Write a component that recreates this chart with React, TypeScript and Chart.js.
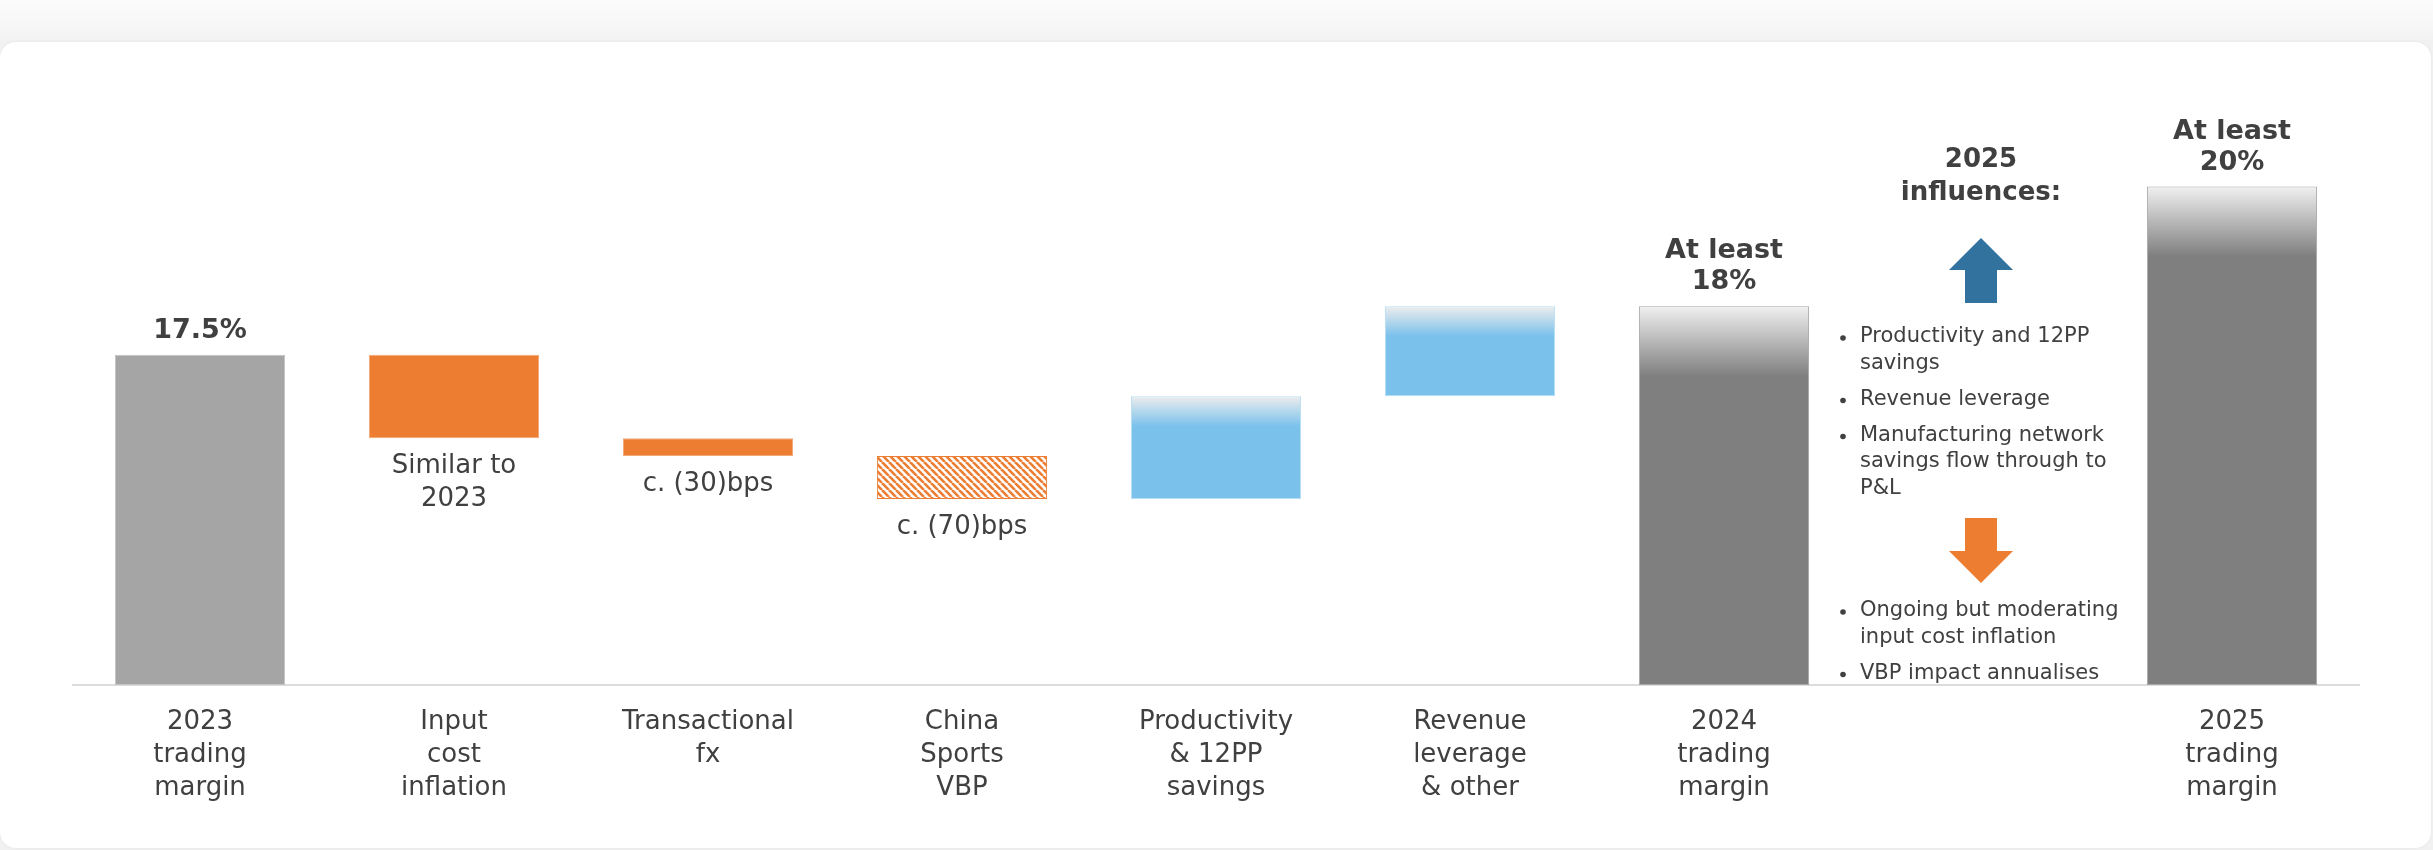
import React, { useEffect, useRef } from "react";
import { Chart, registerables } from "chart.js";

Chart.register(...registerables);

// ---------- data ----------
const categories: (string | string[])[] = [
  ["2023", "trading", "margin"],
  ["Input", "cost", "inflation"],
  ["Transactional", "fx"],
  ["China", "Sports", "VBP"],
  ["Productivity", "& 12PP", "savings"],
  ["Revenue", "leverage", "& other"],
  ["2024", "trading", "margin"],
  "",
  ["2025", "trading", "margin"],
];
// schematic (visual) levels of each waterfall step
const barStart: (number | null)[] = [0, 17.5, 13.08, 12.13, 9.85, 15.3, 0, null, 0];
const barEnd: (number | null)[] = [17.5, 13.08, 12.13, 9.85, 15.3, 20.07, 20.07, null, 26.42];

const topLabels: (string[] | null)[] = [
  ["17.5%"], null, null, null, null, null, ["At least", "18%"], null, ["At least", "20%"],
];
const belowLabels: (string[] | null)[] = [
  null, ["Similar to", "2023"], ["c. (30)bps"], ["c. (70)bps"], null, null, null, null, null,
];

const influencesTitle = ["2025", "influences:"];
const upItems = [
  ["Productivity and 12PP", "savings"],
  ["Revenue leverage"],
  ["Manufacturing network", "savings flow through to", "P&L"],
];
const downItems = [
  ["Ongoing but moderating", "input cost inflation"],
  ["VBP impact annualises"],
];

// ---------- style ----------
const FONT = "'DejaVu Sans', Verdana, sans-serif";
const TEXT = "#404040";
const ORANGE = "#ED7D31";
const BLUE = "#7AC1EC";
const ARROW_BLUE = "#31729E";
const fillKind = ["solidGray", "orange", "orange", "hatch", "blue", "blue", "gray", "none", "gray"];

function makeHatch(): CanvasPattern | string {
  const s = 7;
  const c = document.createElement("canvas");
  c.width = s;
  c.height = s;
  const g = c.getContext("2d");
  if (!g) return ORANGE;
  g.fillStyle = "#ffffff";
  g.fillRect(0, 0, s, s);
  g.strokeStyle = ORANGE;
  g.lineWidth = 2.6;
  for (let k = -1; k <= 1; k++) {
    g.beginPath();
    g.moveTo(k * s, 0);
    g.lineTo(k * s + s, s);
    g.stroke();
  }
  return g.createPattern(c, "repeat") || ORANGE;
}

const labelsPlugin = {
  id: "wfLabels",
  afterDatasetsDraw(chart: any) {
    const { ctx, chartArea } = chart;
    const meta = chart.getDatasetMeta(0);
    const xs = chart.scales.x;
    ctx.save();
    ctx.fillStyle = TEXT;
    ctx.textAlign = "center";
    ctx.textBaseline = "middle";
    meta.data.forEach((el: any, i: number) => {
      if (barStart[i] == null) return;
      const top = Math.min(el.y, el.base);
      const bottom = Math.max(el.y, el.base);
      const tl = topLabels[i];
      if (tl) {
        ctx.font = `bold 27px ${FONT}`;
        tl.forEach((line, j) => ctx.fillText(line, el.x, top - 24 - (tl.length - 1 - j) * 31));
      }
      const bl = belowLabels[i];
      if (bl) {
        ctx.font = `26px ${FONT}`;
        bl.forEach((line, j) => ctx.fillText(line, el.x, bottom + 28 + j * 33));
      }
    });

    // influences panel in the empty category
    const cx = xs.getPixelForValue(7) + 3;
    const t0 = chartArea.top;
    ctx.font = `bold 26px ${FONT}`;
    influencesTitle.forEach((line, j) => ctx.fillText(line, cx, t0 + 41 + j * 33));

    // up arrow
    ctx.fillStyle = ARROW_BLUE;
    ctx.beginPath();
    ctx.moveTo(cx, t0 + 119);
    ctx.lineTo(cx + 32, t0 + 151);
    ctx.lineTo(cx + 16, t0 + 151);
    ctx.lineTo(cx + 16, t0 + 184);
    ctx.lineTo(cx - 16, t0 + 184);
    ctx.lineTo(cx - 16, t0 + 151);
    ctx.lineTo(cx - 32, t0 + 151);
    ctx.closePath();
    ctx.fill();

    // down arrow
    ctx.fillStyle = ORANGE;
    ctx.beginPath();
    ctx.moveTo(cx - 16, t0 + 399);
    ctx.lineTo(cx + 16, t0 + 399);
    ctx.lineTo(cx + 16, t0 + 432);
    ctx.lineTo(cx + 32, t0 + 432);
    ctx.lineTo(cx, t0 + 464);
    ctx.lineTo(cx - 32, t0 + 432);
    ctx.lineTo(cx - 16, t0 + 432);
    ctx.closePath();
    ctx.fill();

    const drawItems = (items: string[][], startY: number) => {
      let y = startY;
      ctx.font = `21px ${FONT}`;
      ctx.textAlign = "left";
      items.forEach((item) => {
        ctx.fillStyle = TEXT;
        ctx.beginPath();
        ctx.arc(cx - 138, y + 1, 2.8, 0, Math.PI * 2);
        ctx.fill();
        item.forEach((line, j) => {
          ctx.fillText(line, cx - 121, y + j * 26.5);
        });
        y += (item.length - 1) * 26.5 + 36;
      });
    };
    drawItems(upItems, t0 + 218);
    drawItems(downItems, t0 + 492);
    ctx.restore();
  },
};

export default function App() {
  const ref = useRef<HTMLCanvasElement>(null);
  useEffect(() => {
    if (!ref.current) return;
    const hatch = makeHatch();
    const data = categories.map((_, i) =>
      barStart[i] == null ? null : [barStart[i] as number, barEnd[i] as number]
    );
    const bg = (c: any) => {
      const i = c.dataIndex;
      const kind = fillKind[i];
      if (kind === "solidGray") return "#A5A5A5";
      if (kind === "orange") return ORANGE;
      if (kind === "hatch") return hatch;
      if (kind === "none") return "rgba(0,0,0,0)";
      const chart = c.chart;
      const ys = chart.scales && chart.scales.y;
      if (!ys) return kind === "blue" ? BLUE : "#7F7F7F";
      const topVal = Math.max(barStart[i] as number, barEnd[i] as number);
      const top = ys.getPixelForValue(topVal);
      const span = kind === "blue" ? 30 : 70;
      const g = chart.ctx.createLinearGradient(0, top, 0, top + span);
      if (kind === "blue") {
        g.addColorStop(0, "#EDEDED");
        g.addColorStop(1, BLUE);
      } else {
        g.addColorStop(0, "#F0F0F0");
        g.addColorStop(1, "#7F7F7F");
      }
      return g;
    };
    const border = (c: any) => {
      const kind = fillKind[c.dataIndex];
      if (kind === "hatch") return ORANGE;
      if (kind === "orange") return "#F3A878";
      if (kind === "blue") return "#B5DDF5";
      if (kind === "solidGray") return "#C4C4C4";
      if (kind === "gray") return "#A8A8A8";
      return "rgba(0,0,0,0)";
    };
    const chart = new Chart(ref.current, {
      type: "bar",
      data: {
        labels: categories as any,
        datasets: [
          {
            data: data as any,
            backgroundColor: bg as any,
            borderColor: border as any,
            borderWidth: 1,
            borderSkipped: false,
            barPercentage: 0.67,
            categoryPercentage: 1,
          },
        ],
      },
      options: {
        responsive: false,
        animation: false,
        layout: { padding: { left: 73, right: 74, top: 119, bottom: 24 } },
        plugins: { legend: { display: false }, tooltip: { enabled: false } },
        scales: {
          y: { display: false, min: 0, max: 30 },
          x: {
            z: 1,
            grid: { display: false, drawTicks: false },
            border: { display: true, color: "#DCDCDC", width: 2 },
            ticks: {
              color: TEXT,
              padding: 21,
              autoSkip: false,
              maxRotation: 0,
              font: { family: FONT, size: 26, lineHeight: 1.27 },
            },
          },
        },
      },
      plugins: [labelsPlugin],
    });
    return () => chart.destroy();
  }, []);

  return (
    <div
      style={{
        position: "fixed",
        left: 0,
        top: 0,
        width: 2433,
        height: 850,
        overflow: "hidden",
        background: "linear-gradient(#fbfbfb 0px, #f7f7f7 25px, #f1f1f1 42px)",
      }}
    >
      <div
        style={{
          position: "absolute",
          left: 0,
          top: 42,
          width: 2431,
          height: 806,
          background: "#ffffff",
          borderRadius: 16,
          boxShadow: "0 0 3px rgba(0,0,0,0.06)",
        }}
      />
      <canvas ref={ref} width={2433} height={850} style={{ position: "absolute", left: 0, top: 0 }} />
    </div>
  );
}
